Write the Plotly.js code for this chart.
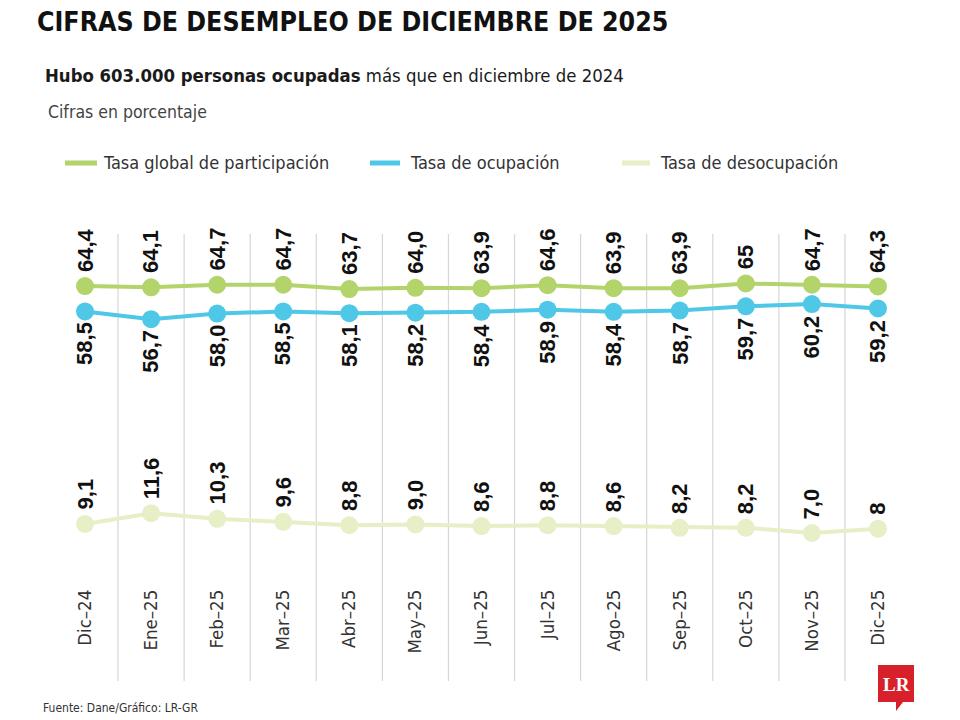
<!DOCTYPE html>
<html>
<head>
<meta charset="utf-8">
<script src="https://cdn.plot.ly/plotly-3.0.1.min.js"></script>
<style>
html,body{margin:0;padding:0;background:#fff;}
#chart{width:960px;height:720px;}
</style>
</head>
<body>
<div id="chart"></div>
<script>
// ---- data ----
var months = ['Dic–24','Ene–25','Feb–25','Mar–25','Abr–25','May–25','Jun–25','Jul–25','Ago–25','Sep–25','Oct–25','Nov–25','Dic–25'];
var participacion = [64.4, 64.1, 64.7, 64.7, 63.7, 64.0, 63.9, 64.6, 63.9, 63.9, 65, 64.7, 64.3];
var ocupacion = [58.5, 56.7, 58.0, 58.5, 58.1, 58.2, 58.4, 58.9, 58.4, 58.7, 59.7, 60.2, 59.2];
var desocupacion = [9.1, 11.6, 10.3, 9.6, 8.8, 9.0, 8.6, 8.8, 8.6, 8.2, 8.2, 7.0, 8];
var participacionLabels = ['64,4','64,1','64,7','64,7','63,7','64,0','63,9','64,6','63,9','63,9','65','64,7','64,3'];
var ocupacionLabels = ['58,5','56,7','58,0','58,5','58,1','58,2','58,4','58,9','58,4','58,7','59,7','60,2','59,2'];
var desocupacionLabels = ['9,1','11,6','10,3','9,6','8,8','9,0','8,6','8,8','8,6','8,2','8,2','7,0','8'];
var seriesNames = ['Tasa global de participación','Tasa de ocupación','Tasa de desocupación'];

// ---- styling ----
var colors = ['#b3d36b', '#4ec8e6', '#e6efc6'];
var NARROW = '"DejaVu Sans Condensed", "Liberation Sans Narrow", sans-serif';
var SANS = '"Liberation Sans", Arial, sans-serif';

// plot area in pixels
var L = 40, R = 920, T = 234, B = 585;
function px(x){ return (x - L) / (R - L); }
function py(y){ return (B - y) / (B - T); }

function trace(vals, i){
  return {
    type: 'scatter', mode: 'lines+markers',
    x: months, y: vals, name: seriesNames[i],
    line: {color: colors[i], width: 4},
    marker: {color: colors[i], size: 18},
    hoverinfo: 'skip', showlegend: false
  };
}
var data = [trace(desocupacion, 2), trace(ocupacion, 1), trace(participacion, 0)];

var annotations = [];
function addLabels(vals, labels, above){
  for (var i = 0; i < vals.length; i++){
    annotations.push({
      x: months[i], y: vals[i], xref: 'x', yref: 'y',
      text: labels[i], showarrow: false, textangle: -90,
      font: {family: SANS, size: 22, color: '#111', weight: 'bold'},
      xanchor: 'center', yanchor: above ? 'bottom' : 'top',
      yshift: above ? 12 : -9
    });
  }
}
addLabels(participacion, participacionLabels, true);
addLabels(ocupacion, ocupacionLabels, false);
addLabels(desocupacion, desocupacionLabels, true);

// header texts
annotations.push({xref:'paper', yref:'paper', x:px(43), y:py(75), xanchor:'left', yanchor:'middle', showarrow:false,
  text:'<b>Hubo 603.000 personas ocupadas</b> más que en diciembre de 2024', font:{family:NARROW, size:18.4, color:'#1a1a1a'}});
annotations.push({xref:'paper', yref:'paper', x:px(46), y:py(112), xanchor:'left', yanchor:'middle', showarrow:false,
  text:'Cifras en porcentaje', font:{family:NARROW, size:17.5, color:'#444'}});
annotations.push({xref:'paper', yref:'paper', x:px(41), y:py(708), xanchor:'left', yanchor:'middle', showarrow:false,
  text:'Fuente: Dane/Gráfico: LR-GR', font:{family:NARROW, size:12, color:'#333'}});

// legend (manual)
var legendPos = [[65, 97, 101], [370, 400, 408], [622, 650, 658]];
var shapes = [];
for (var k = 0; k < 3; k++){
  shapes.push({type:'line', xref:'paper', yref:'paper', x0:px(legendPos[k][0]), x1:px(legendPos[k][1]), y0:py(163), y1:py(163),
    line:{color:colors[k], width:5}});
  annotations.push({xref:'paper', yref:'paper', x:px(legendPos[k][2]), y:py(163), xanchor:'left', yanchor:'middle', showarrow:false,
    text:seriesNames[k], font:{family:NARROW, size:18, color:'#333'}});
}

// vertical separators between months
for (var g = 0; g < months.length - 1; g++){
  shapes.push({type:'line', xref:'x', yref:'paper', x0:g + 0.5, x1:g + 0.5, y0:py(681), y1:1,
    line:{color:'#d6d6d6', width:1.2}, layer:'below'});
}

// LR logo
shapes.push({type:'path', xref:'paper', yref:'paper', fillcolor:'#d8202a', line:{width:0},
  path:'M ' + px(878) + ',' + py(665) + ' L ' + px(914) + ',' + py(665) + ' L ' + px(914) + ',' + py(702) +
       ' L ' + px(903) + ',' + py(702) + ' L ' + px(896) + ',' + py(711) + ' L ' + px(896) + ',' + py(702) +
       ' L ' + px(878) + ',' + py(702) + ' Z'});
annotations.push({xref:'paper', yref:'paper', x:px(896), y:py(684), xanchor:'center', yanchor:'middle', showarrow:false,
  text:'<b>LR</b>', font:{family:'"Liberation Serif", serif', size:19, color:'#fff'}});

var layout = {
  width: 960, height: 720,
  paper_bgcolor: '#fff', plot_bgcolor: 'rgba(0,0,0,0)',
  margin: {l: L, r: 960 - R, t: T, b: 720 - B, pad: 0},
  title: {text: 'CIFRAS DE DESEMPLEO DE DICIEMBRE DE 2025', xref: 'container', yref: 'container',
    x: 37/960, y: 1 - 22/720, xanchor: 'left', yanchor: 'middle',
    font: {family: NARROW, size: 26.5, color: '#111', weight: 'bold'}},
  showlegend: false,
  xaxis: {type: 'category', range: [-0.681, 12.636], showgrid: false, zeroline: false, showline: false,
    ticks: '', tickangle: -90, tickfont: {family: NARROW, size: 18.5, color: '#333'}, fixedrange: true},
  yaxis: {range: [-5.09, 76.5], visible: false, fixedrange: true},
  annotations: annotations,
  shapes: shapes
};

Plotly.newPlot('chart', data, layout, {displayModeBar: false, staticPlot: true});
</script>
</body>
</html>
